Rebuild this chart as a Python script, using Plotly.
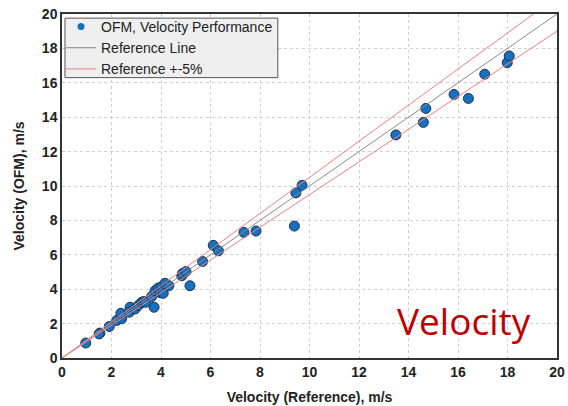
import plotly.graph_objects as go

# Reference vs. OFM velocity readings (m/s)
v_ref = [0.96, 1.53, 1.50, 1.91, 2.21, 2.41, 2.38, 2.75, 2.72, 2.95, 3.08, 3.22, 3.30, 3.38,
         3.62, 3.72, 3.76, 3.89, 3.97, 4.03, 4.09, 4.16, 4.32, 4.84, 4.87, 5.01, 5.17,
         5.68, 6.11, 6.32, 7.35, 7.84, 9.39, 9.45, 9.70, 13.49, 14.60, 14.70, 15.84,
         16.42, 17.08, 17.99, 18.07]
v_ofm = [0.87, 1.45, 1.40, 1.83, 2.18, 2.28, 2.60, 2.95, 2.66, 2.85, 3.05, 3.24, 3.28, 3.24,
         3.57, 2.95, 3.91, 4.07, 3.80, 4.14, 3.76, 4.34, 4.20, 4.78, 4.91, 5.03, 4.20,
         5.61, 6.55, 6.23, 7.30, 7.38, 7.67, 9.60, 10.04, 12.97, 13.70, 14.51, 15.32,
         15.09, 16.50, 17.17, 17.56]

line_x = [0, 20]
tolerance = 0.05

POINT_BLUE = "#1670c0"

fig = go.Figure()
fig.add_trace(go.Scatter(
    x=v_ref, y=v_ofm, mode="markers", name="OFM, Velocity Performance",
    showlegend=False, legendgroup="ofm",
    marker=dict(size=10, color=POINT_BLUE, line=dict(color="#1c3550", width=1)),
))
# smaller legend symbol for the measurement points
fig.add_trace(go.Scatter(
    x=[None], y=[None], mode="markers", name="OFM, Velocity Performance",
    legendgroup="ofm", marker=dict(size=7, color=POINT_BLUE),
))
fig.add_trace(go.Scatter(
    x=line_x, y=line_x, mode="lines", name="Reference Line",
    line=dict(color="#8a8a8a", width=1),
))
fig.add_trace(go.Scatter(
    x=line_x, y=[v * (1 + tolerance) for v in line_x], mode="lines",
    name="Reference +-5%", line=dict(color="#f08080", width=1),
))
fig.add_trace(go.Scatter(
    x=line_x, y=[v * (1 - tolerance) for v in line_x], mode="lines",
    showlegend=False, line=dict(color="#f08080", width=1),
))

axis_common = dict(
    range=[0, 20], dtick=2, showgrid=True, gridcolor="#d0d0d0", griddash="dot",
    gridwidth=1, zeroline=False, showline=True, mirror=True, linecolor="#333333",
    linewidth=1.5, ticks="", automargin=False,
    tickfont=dict(family="Liberation Sans, Arial", size=14, color="#222222", weight="bold"),
    title_font=dict(family="Liberation Sans, Arial", size=14, color="#222222", weight="bold"),
)

fig.update_layout(
    width=568, height=406,
    margin=dict(l=62, r=11, t=12, b=48),
    paper_bgcolor="white", plot_bgcolor="white",
    xaxis=dict(title=dict(text="Velocity (Reference), m/s", standoff=14), **axis_common),
    yaxis=dict(title=dict(text="Velocity (OFM), m/s", standoff=14), **axis_common),
    legend=dict(x=-0.002, y=1.009, xanchor="left", yanchor="top",
                bgcolor="rgba(0,0,0,0)", borderwidth=0,
                font=dict(family="Liberation Sans, Arial", size=14, color="#222222"),
                tracegroupgap=0, itemwidth=30),
    # legend frame
    shapes=[dict(type="rect", xref="paper", yref="paper", x0=0.006, x1=0.436,
                 y0=0.815, y1=0.988, fillcolor="#efefef",
                 line=dict(color="#555555", width=1), layer="above")],
    annotations=[dict(
        text="Velocity", x=16.25, y=2.2, xref="x", yref="y", showarrow=False,
        font=dict(family="Open Sans, Liberation Sans", size=37, color="#c00000"),
    )],
    showlegend=True,
)

fig.write_html("out.html")
